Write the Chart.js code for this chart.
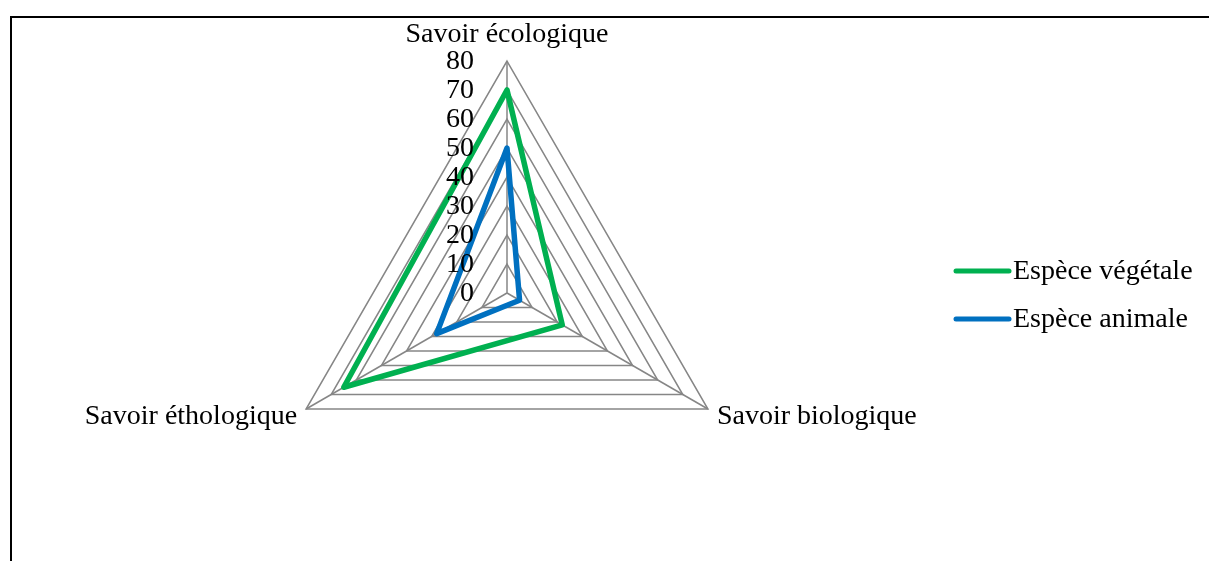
<!DOCTYPE html>
<html>
<head>
<meta charset="utf-8">
<script src="https://cdn.jsdelivr.net/npm/chart.js@4.4.1/dist/chart.umd.min.js"></script>
<style>
  html, body { margin: 0; padding: 0; background: #fff; overflow: hidden; }
  #frame { position: absolute; left: 10px; top: 16px; width: 1300px; height: 700px; border-top: 2px solid #000; border-left: 2px solid #000; }
  #radar { position: absolute; left: 0; top: 0; }
</style>
</head>
<body>
<div id="frame"></div>
<canvas id="radar" width="1209" height="561"></canvas>
<script>
// Axes of the radar and the two series
const axisLabels = ['Savoir écologique', 'Savoir biologique', 'Savoir éthologique'];
const seriesNames = ['Espèce végétale', 'Espèce animale'];
const vegetalValues = [70, 22, 65];
const animalValues = [50, 5, 28];
const tickValues = [0, 10, 20, 30, 40, 50, 60, 70, 80];
const seriesColors = ['#00B050', '#0070C0'];

const FONT = '28px "Liberation Serif", "Times New Roman", serif';

// Tick labels, axis titles and legend drawn the way the spreadsheet lays them out
const labelsPlugin = {
    id: 'sheetLabels',
    afterDatasetsDraw(chart) {
        const ctx = chart.ctx;
        const r = chart.scales.r;
        ctx.save();
        ctx.font = FONT;
        ctx.fillStyle = '#000';

        // values along the vertical axis, to its left
        ctx.textAlign = 'right';
        ctx.textBaseline = 'middle';
        tickValues.forEach(v => {
            const p = r.getPointPositionForValue(0, v);
            ctx.fillText(String(v), p.x - 33, p.y + 1);
        });

        // axis titles just outside each vertex
        axisLabels.forEach((text, i) => {
            const p = r.getPointPosition(i, r.drawingArea);
            if (i === 0) {
                ctx.textAlign = 'center';
                ctx.fillText(text, p.x, p.y - 26);
            } else if (i === 1) {
                ctx.textAlign = 'left';
                ctx.fillText(text, p.x + 9, p.y + 8);
            } else {
                ctx.textAlign = 'right';
                ctx.fillText(text, p.x - 9, p.y + 8);
            }
        });

        // legend on the right
        ctx.lineCap = 'round';
        ctx.lineWidth = 5;
        chart.data.datasets.forEach((ds, i) => {
            const y = 271 + i * 48;
            ctx.strokeStyle = ds.borderColor;
            ctx.beginPath();
            ctx.moveTo(956, y);
            ctx.lineTo(1009, y);
            ctx.stroke();
            ctx.textAlign = 'left';
            ctx.fillText(ds.label, 1013, y + 1);
        });
        ctx.restore();
    }
};

new Chart(document.getElementById('radar'), {
    type: 'radar',
    data: {
        labels: axisLabels,
        datasets: [
            {
                label: seriesNames[0],
                data: vegetalValues,
                borderColor: seriesColors[0],
                backgroundColor: seriesColors[0],
                borderWidth: 5.5,
                borderJoinStyle: 'round',
                fill: false,
                pointRadius: 0
            },
            {
                label: seriesNames[1],
                data: animalValues,
                borderColor: seriesColors[1],
                backgroundColor: seriesColors[1],
                borderWidth: 5.5,
                borderJoinStyle: 'round',
                fill: false,
                pointRadius: 0
            }
        ]
    },
    options: {
        responsive: false,
        animation: false,
        layout: {
            padding: { top: 61, bottom: 36, left: 275, right: 470 }
        },
        plugins: {
            legend: { display: false },
            tooltip: { enabled: false }
        },
        scales: {
            r: {
                min: 0,
                max: 80,
                ticks: { stepSize: 10, display: false },
                grid: { color: '#868686', lineWidth: 1.5 },
                angleLines: { color: '#868686', lineWidth: 1.5 },
                pointLabels: { display: false }
            }
        }
    },
    plugins: [labelsPlugin]
});
</script>
</body>
</html>
